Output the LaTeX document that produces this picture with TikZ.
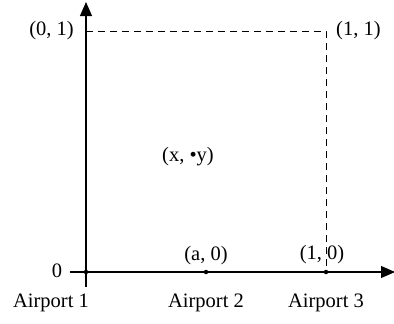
\documentclass[tikz,border=0pt]{standalone}
\usepackage{fontspec}
\setmainfont{Liberation Serif}
\usetikzlibrary{arrows.meta}
\begin{document}
\begin{tikzpicture}[x=1pt,y=-1pt,
  lbl/.style={inner sep=0pt,font=\fontsize{20.5}{24}\selectfont},
  axis/.style={line width=1.1pt,-{Triangle[length=14pt,width=12pt]}},
  guide/.style={line width=1pt,dash pattern=on 7pt off 5pt},
  pt/.style={circle,fill,inner sep=0pt,minimum size=4.5pt}]
\useasboundingbox (0,0) rectangle (394,324);
\coordinate (o) at (86,272);
\coordinate (ytop) at (86,2);
\coordinate (ybot) at (86,287);
\coordinate (xl) at (70,272);
\coordinate (xr) at (395,272);
\coordinate (c01) at (86,31);
\coordinate (c11) at (326,31);
\coordinate (c10) at (326,272);
\node[pt] (p1) at (o) {};
\node[pt] (p2) at (206,272) {};
\node[pt] (p3) at (c10) {};
\draw[axis] (ybot) -- (ytop);
\draw[axis] (xl) -- (xr);
\draw[guide] (c01) -- (c11) -- (c10);
\node[lbl,anchor=east] (l01) at (74,31) {(0, 1)};
\node[lbl,anchor=west] (l11) at (336,31) {(1, 1)};
\node[lbl] (l0) at (57,271) {0};
\node[lbl] (la0) at (206,256) {(a, 0)};
\node[lbl] (l10) at (322,255) {(1, 0)};
\node[lbl] (lxy) at (188,157) {(x, \textbullet y)};
\node[lbl] (a1) at (51,303) {Airport 1};
\node[lbl] (a2) at (206,303) {Airport 2};
\node[lbl] (a3) at (326,303) {Airport 3};
\end{tikzpicture}
\end{document}
